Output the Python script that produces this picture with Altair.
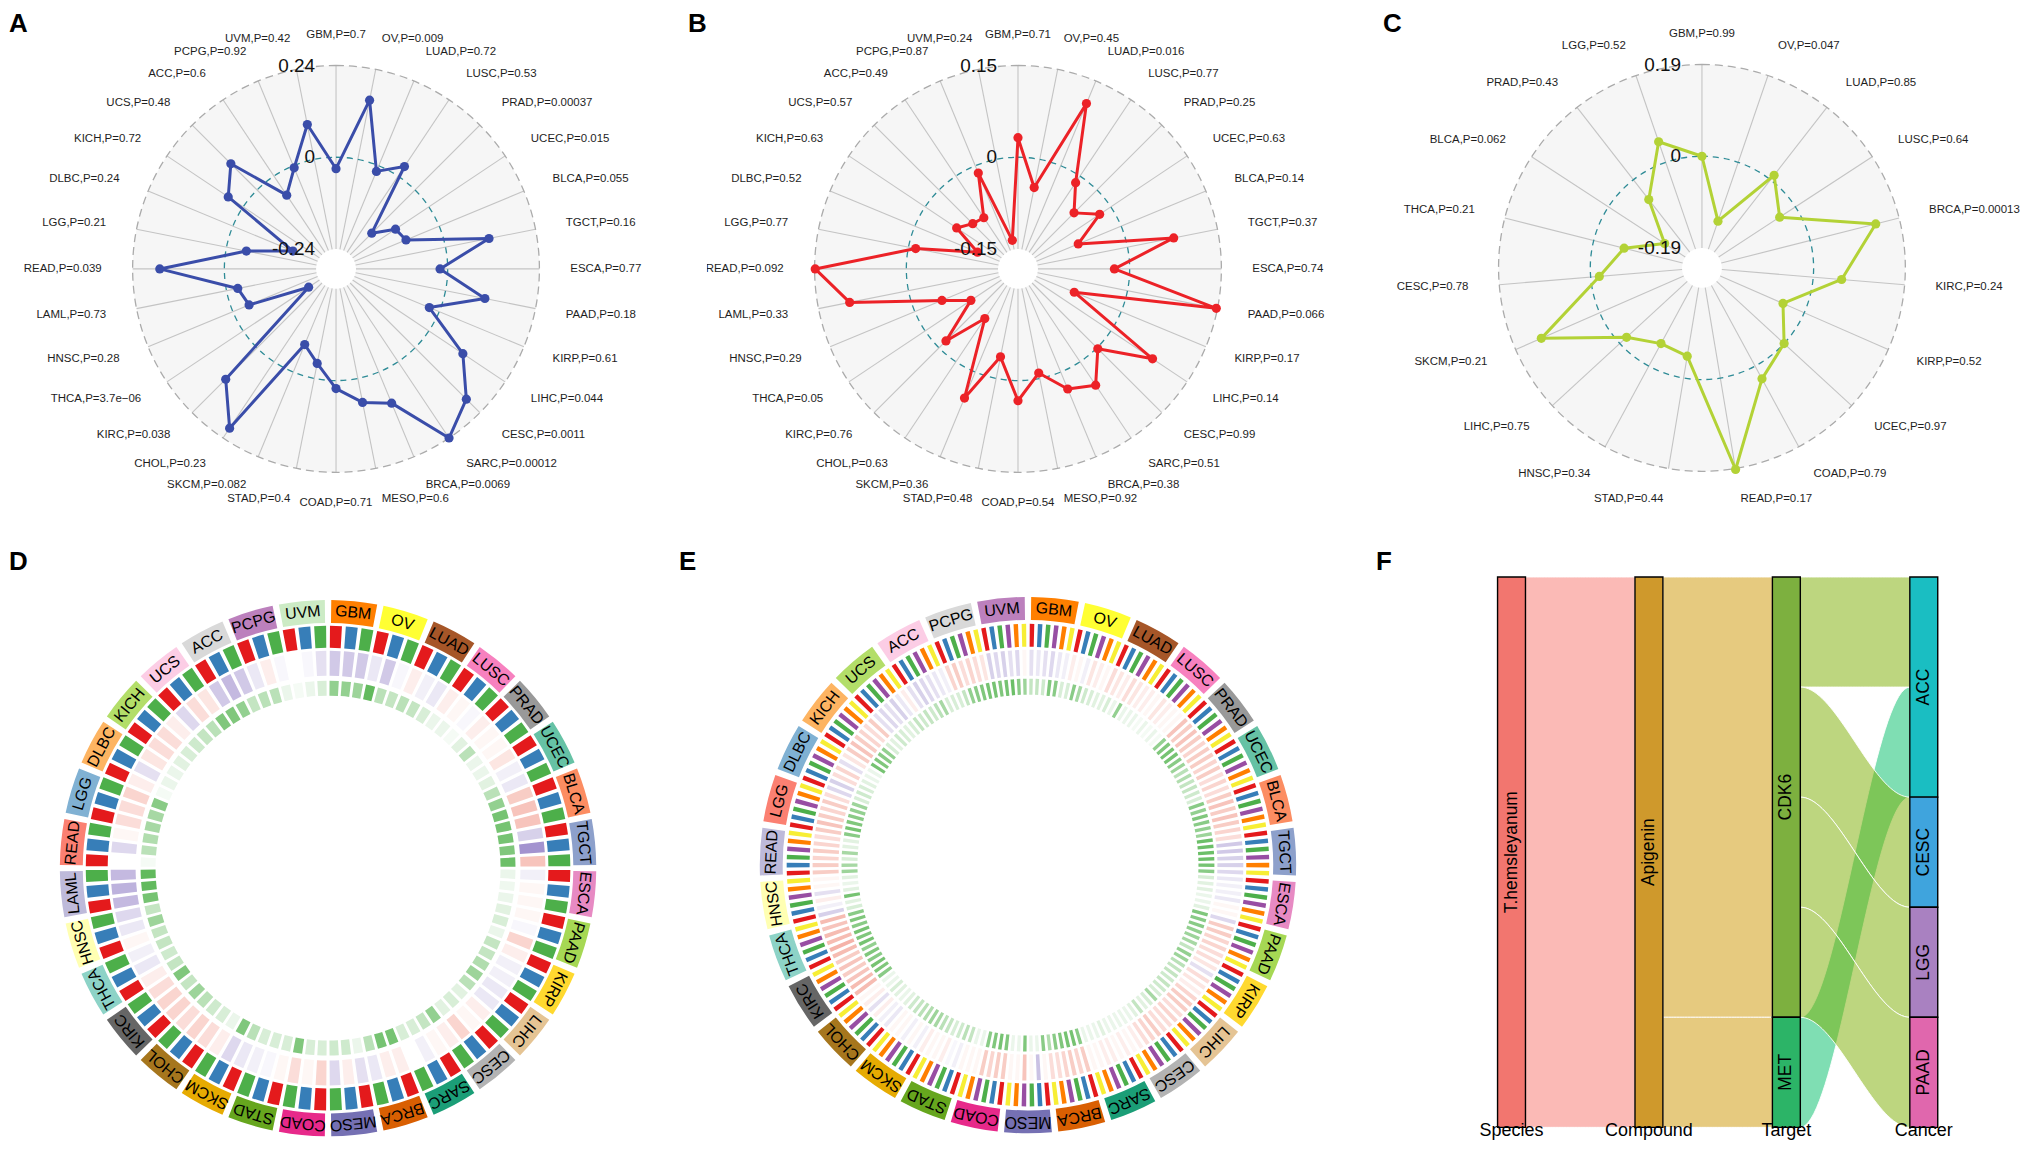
import math
import numpy as np
import pandas as pd
import altair as alt

FONT = "Liberation Sans"

# ------------------------------------------------------------------ data: radar A / B / C
cancers_ab = ["GBM", "OV", "LUAD", "LUSC", "PRAD", "UCEC", "BLCA", "TGCT", "ESCA", "PAAD",
              "KIRP", "LIHC", "CESC", "SARC", "BRCA", "MESO", "COAD", "STAD", "SKCM", "CHOL",
              "KIRC", "THCA", "HNSC", "LAML", "READ", "LGG", "DLBC", "KICH", "UCS", "ACC",
              "PCPG", "UVM"]
p_a = ["0.7", "0.009", "0.72", "0.53", "0.00037", "0.015", "0.055", "0.16", "0.77", "0.18",
       "0.61", "0.044", "0.0011", "0.00012", "0.0069", "0.6", "0.71", "0.4", "0.082", "0.23",
       "0.038", "3.7e\u221206", "0.28", "0.73", "0.039", "0.21", "0.24", "0.72", "0.48", "0.6",
       "0.92", "0.42"]
cor_a = [-0.030, 0.158, -0.016, 0.030, -0.160, -0.105, -0.094, 0.116, -0.020, 0.105,
         -0.028, 0.107, 0.190, 0.240, 0.088, 0.064, 0.021, -0.040, -0.078, 0.209,
         0.116, -0.206, -0.046, -0.030, 0.169, -0.053, -0.170, 0.047, 0.097, -0.060,
         -0.006, 0.093]
p_b = ["0.71", "0.45", "0.016", "0.77", "0.25", "0.63", "0.14", "0.37", "0.74", "0.066",
       "0.17", "0.14", "0.99", "0.51", "0.38", "0.92", "0.54", "0.48", "0.36", "0.63",
       "0.76", "0.05", "0.29", "0.33", "0.092", "0.77", "0.52", "0.63", "0.57", "0.49",
       "0.87", "0.24"]
cor_b = [0.032, -0.047, 0.110, -0.013, -0.053, -0.022, -0.076, 0.077, -0.025, 0.148,
         -0.083, 0.082, 0.002, 0.046, 0.030, -0.009, 0.033, -0.036, 0.046, -0.085,
         -0.016, -0.090, -0.048, 0.098, 0.149, -0.012, -0.111, -0.062, -0.078, -0.082,
         -0.013, -0.135]
cancers_c = ["GBM", "OV", "LUAD", "LUSC", "BRCA", "KIRC", "KIRP", "UCEC", "COAD", "READ",
             "STAD", "HNSC", "LIHC", "SKCM", "CESC", "THCA", "BLCA", "PRAD", "LGG"]
p_c = ["0.99", "0.047", "0.85", "0.64", "0.00013", "0.24", "0.52", "0.97", "0.79", "0.17",
       "0.44", "0.34", "0.75", "0.21", "0.78", "0.21", "0.062", "0.43", "0.52"]
cor_c = [0.000, -0.129, 0.012, -0.039, 0.140, 0.059, -0.048, 0.000, 0.030, 0.192,
         -0.046, -0.053, -0.019, 0.132, -0.018, -0.065, -0.139, -0.052, 0.045]

ticks_a = [-0.24, 0.0, 0.24]
tick_lab_a = ["-0.24", "0", "0.24"]
ticks_b = [-0.15, 0.0, 0.15]
tick_lab_b = ["-0.15", "0", "0.15"]
ticks_c = [-0.19, 0.0, 0.19]
tick_lab_c = ["-0.19", "0", "0.19"]

# ------------------------------------------------------------------ data: circos D / E
cancers_d = cancers_ab
div_d = [[-0.35, -0.35, -0.35], [-0.15, -0.35, -0.05], [0.1, -0.1, -0.15], [0.1, 0.05, -0.05],
         [0.1, 0.05, 0.05], [0.15, -0.1, -0.15], [0.3, 0.35, 0.35], [-0.3, -0.7, 0.35],
         [-0.1, 0.05, 0.05], [0.05, -0.05, 0.25], [0.1, -0.1, -0.1], [-0.15, -0.15, 0.1],
         [0.05, 0.25, 0.1], [0.05, -0.1, 0.0], [0.1, 0.1, -0.15], [-0.2, 0.1, -0.25],
         [0.25, 0.05, 0.2], [0.05, -0.05, -0.1], [-0.15, -0.25, 0.1], [0.2, 0.25, 0.2],
         [0.25, 0.25, 0.2], [0.1, -0.15, -0.1], [0.05, -0.15, -0.25], [-0.45, -0.5, -0.45],
         [0.0, -0.25, 0.05], [0.2, 0.2, 0.25], [0.1, -0.2, 0.15], [0.2, 0.2, 0.1],
         [-0.25, 0.2, 0.15], [-0.35, -0.45, -0.35], [-0.15, 0.1, -0.05], [0.0, -0.05, -0.2]]
sig_d = [[0.55, 0.55, 0.5], [0.8, 0.35, 0.3], [0.35, 0.3, 0.2], [0.1, 0.1, 0.05],
         [0.15, 0.35, 0.1], [0.1, 0.15, 0.35], [0.55, 0.7, 0.7], [0.7, 0.65, 0.75],
         [0.1, 0.08, 0.1], [0.15, 0.2, 0.1], [0.3, 0.3, 0.4], [0.5, 0.35, 0.15],
         [0.2, 0.15, 0.55], [0.3, 0.2, 0.2], [0.7, 0.7, 0.35], [0.1, 0.25, 0.25],
         [0.2, 0.2, 0.65], [0.2, 0.2, 0.2], [0.35, 0.65, 0.1], [0.2, 0.25, 0.35],
         [0.5, 0.3, 0.65], [0.3, 0.25, 0.3], [0.3, 0.5, 0.3], [0.7, 0.8, 0.8],
         [0.05, 0.35, 0.4], [0.45, 0.45, 0.6], [0.05, 0.1, 0.1], [0.15, 0.2, 0.25],
         [0.3, 0.35, 0.65], [0.65, 0.55, 0.3], [0.35, 0.35, 0.1], [0.05, 0.1, 0.2]]

cancers_e = ["GBM", "OV", "LUAD", "LUSC", "PRAD", "UCEC", "BLCA", "TGCT", "ESCA", "PAAD",
             "KIRP", "LIHC", "CESC", "SARC", "BRCA", "MESO", "COAD", "STAD", "SKCM", "CHOL",
             "KIRC", "THCA", "HNSC", "READ", "LGG", "DLBC", "KICH", "UCS", "ACC", "PCPG", "UVM"]
div_e = [[-0.2, -0.15, -0.2, -0.25, -0.15, -0.1], [0.1, 0.05, -0.1, 0.15, 0.1, 0.05],
         [0.2, 0.15, 0.1, 0.2, 0.15, 0.1], [0.1, 0.05, 0.15, 0.1, 0.05, 0.05],
         [0.35, 0.3, 0.35, 0.3, 0.25, 0.3], [0.3, 0.25, 0.3, 0.2, 0.25, 0.2],
         [0.3, 0.35, 0.3, 0.35, 0.3, 0.25], [0.2, -0.35, -0.35, -0.3, -0.3, -0.25],
         [-0.15, -0.1, -0.1, -0.15, 0.05, 0.05], [-0.25, 0.3, 0.3, 0.25, 0.25, 0.2],
         [0.2, 0.15, -0.2, 0.2, 0.15, 0.1], [0.25, 0.3, 0.3, 0.2, 0.25, 0.2],
         [0.2, 0.3, 0.25, 0.2, 0.1, 0.05], [0.1, 0.05, 0.1, 0.1, 0.05, 0.05],
         [0.3, 0.25, 0.3, 0.25, 0.2, 0.2], [0.05, -0.4, 0.05, 0.35, 0.05, 0.05],
         [0.3, 0.3, 0.25, 0.3, 0.05, 0.05], [0.05, -0.1, -0.05, 0.1, 0.05, 0.05],
         [0.1, -0.1, 0.05, -0.1, 0.05, 0.05], [-0.15, -0.1, 0.1, -0.2, 0.1, 0.05],
         [0.4, 0.4, 0.35, 0.3, 0.35, 0.3], [0.4, 0.45, 0.4, 0.4, 0.35, 0.4],
         [-0.3, -0.1, 0.1, -0.2, 0.05, 0.05], [0.3, 0.3, 0.25, 0.3, 0.25, 0.2],
         [0.3, 0.35, 0.3, 0.25, 0.3, 0.2], [-0.25, -0.3, 0.2, 0.25, -0.2, 0.15],
         [0.3, 0.35, 0.3, 0.25, 0.2, 0.3], [-0.2, -0.25, -0.2, -0.3, -0.15, 0.1],
         [-0.2, -0.3, -0.25, -0.2, -0.15, -0.1], [0.25, 0.3, 0.2, 0.25, 0.2, 0.15],
         [-0.3, -0.25, -0.3, -0.2, -0.25, 0.05]]
sig_e = [[0.3, 0.3, 0.25, 0.65, 0.6, 0.2], [0.2, 0.6, 0.45, 0.25, 0.2, 0.15],
         [0.15, 0.2, 0.1, 0.55, 0.1, 0.1], [0.1, 0.05, 0.1, 0.05, 0.1, 0.05],
         [0.55, 0.65, 0.7, 0.7, 0.6, 0.5], [0.35, 0.4, 0.3, 0.3, 0.25, 0.2],
         [0.6, 0.55, 0.65, 0.6, 0.55, 0.5], [0.75, 0.75, 0.75, 0.75, 0.7, 0.6],
         [0.2, 0.15, 0.15, 0.1, 0.1, 0.15], [0.65, 0.6, 0.6, 0.55, 0.5, 0.45],
         [0.3, 0.55, 0.5, 0.35, 0.3, 0.3], [0.25, 0.3, 0.25, 0.2, 0.45, 0.2],
         [0.15, 0.3, 0.15, 0.1, 0.1, 0.1], [0.1, 0.1, 0.15, 0.1, 0.1, 0.1],
         [0.6, 0.7, 0.7, 0.65, 0.6, 0.4], [0.6, 0.1, 0.1, 0.65, 0.1, 0.1],
         [0.65, 0.7, 0.65, 0.6, 0.1, 0.1], [0.3, 0.35, 0.25, 0.2, 0.3, 0.35],
         [0.45, 0.5, 0.4, 0.35, 0.3, 0.25], [0.15, 0.1, 0.15, 0.2, 0.1, 0.1],
         [0.6, 0.65, 0.7, 0.6, 0.65, 0.55], [0.7, 0.65, 0.7, 0.6, 0.65, 0.6],
         [0.2, 0.15, 0.7, 0.15, 0.1, 0.15], [0.5, 0.45, 0.2, 0.45, 0.15, 0.15],
         [0.6, 0.7, 0.65, 0.6, 0.55, 0.5], [0.2, 0.25, 0.2, 0.15, 0.1, 0.1],
         [0.7, 0.65, 0.6, 0.55, 0.2, 0.15], [0.25, 0.2, 0.15, 0.2, 0.3, 0.25],
         [0.3, 0.25, 0.35, 0.45, 0.2, 0.2], [0.2, 0.3, 0.55, 0.6, 0.65, 0.7],
         [0.7, 0.65, 0.7, 0.75, 0.6, 0.5]]

# ------------------------------------------------------------------ data: alluvial F
stage_names = ["Species", "Compound", "Target", "Cancer"]
stage_nodes = [["T.hemsleyanum"], ["Apigenin"], ["CDK6", "MET"], ["ACC", "CESC", "LGG", "PAAD"]]
flow_src = ["T.hemsleyanum", "Apigenin", "Apigenin", "CDK6", "CDK6", "CDK6", "CDK6", "MET"]
flow_tgt = ["Apigenin", "CDK6", "MET", "ACC", "CESC", "LGG", "PAAD", "ACC"]
flow_val = [5, 4, 1, 1, 1, 1, 1, 1]

# ------------------------------------------------------------------ styles
box_pal_common = {"GBM": "#FF7F00", "OV": "#FFFF33", "LUAD": "#A65628", "LUSC": "#F781BF",
                  "PRAD": "#999999", "UCEC": "#66C2A5", "BLCA": "#FC8D62", "TGCT": "#8DA0CB",
                  "ESCA": "#E78AC3", "PAAD": "#A6D854", "KIRP": "#FFD92F", "LIHC": "#E5C494",
                  "CESC": "#B3B3B3", "SARC": "#1B9E77", "BRCA": "#D95F02", "MESO": "#7570B3",
                  "COAD": "#E7298A", "STAD": "#66A61E", "SKCM": "#E6AB02", "CHOL": "#A6761D",
                  "KIRC": "#666666", "THCA": "#8DD3C7", "HNSC": "#FFFFB3"}
set3_tail = ["#BEBADA", "#FB8072", "#80B1D3", "#FDB462", "#B3DE69", "#FCCDE5", "#D9D9D9",
             "#BC80BD", "#CCEBC5"]
box_pal_d = dict(box_pal_common, **dict(zip(cancers_d[23:], set3_tail)))
box_pal_e = dict(box_pal_common, **dict(zip(cancers_e[23:], set3_tail)))
gene_cols_d = ["#E41A1C", "#377EB8", "#4DAF4A"]
gene_cols_e = ["#E41A1C", "#377EB8", "#4DAF4A", "#984EA3", "#FF7F00", "#F7EE35"]
DIV_RANGE = ["#7B64BA", "#FFFFFF", "#E9573F"]
SIG_RANGE = ["#FFFFFF", "#3BA935"]
node_col = {"T.hemsleyanum": "#F2766F", "Apigenin": "#CF992C", "CDK6": "#7DB03F",
            "MET": "#2CB467", "ACC": "#1ABEC2", "CESC": "#3FA4DD", "LGG": "#A981C1",
            "PAAD": "#E067AD"}
flow_col = {"T.hemsleyanum": "#F8766D", "Apigenin": "#CD9600", "CDK6": "#7CAE00",
            "MET": "#00BE67"}

# ------------------------------------------------------------------ helpers
ORIGIN = pd.DataFrame({"o": [0]})
R_IN, R_OUT, R_LAB = 20, 204, 235


def pos_scales(W, H, cx, cy):
    sx = alt.Scale(domain=[-cx, W - cx], nice=False, zero=False)
    sy = alt.Scale(domain=[-(H - cy), cy], nice=False, zero=False)
    return sx, sy


def xy(sx, sy):
    return dict(x=alt.X("x:Q", scale=sx, axis=None), y=alt.Y("y:Q", scale=sy, axis=None))


def letter(t, px, py):
    return alt.Chart(ORIGIN).mark_text(
        text=t, align="left", baseline="top", fontSize=26, fontWeight="bold",
        font=FONT, color="black").encode(x=alt.value(px), y=alt.value(py))


def radar(cancers, pvals, cors, ticks, tick_labels, color, W, H, cx, cy, letters, clip=False):
    sx, sy = pos_scales(W, H, cx, cy)
    enc = xy(sx, sy)
    n = len(cancers)
    lo, hi = ticks[0], ticks[-1]
    k = (R_OUT - R_IN) / (hi - lo)
    df = pd.DataFrame({"cancer": cancers, "p": pvals, "v": cors})
    df["i"] = np.arange(n)
    th = f"datum.i*2*PI/{n}"

    def rad(f):
        return f"{R_IN}+(datum.{f}-({lo}))*{k}"

    def circle(**kw):
        return alt.Chart(ORIGIN).transform_calculate(x="0", y="0").mark_arc(
            theta=0, theta2=2 * math.pi, **kw).encode(**enc)

    bg = circle(radius=R_OUT, radius2=R_IN, color="#F6F6F6")
    spokes = (alt.Chart(df).transform_calculate(th=th)
              .transform_calculate(x=f"{R_IN}*sin(datum.th)", y=f"{R_IN}*cos(datum.th)",
                                   x2=f"{R_OUT}*sin(datum.th)", y2=f"{R_OUT}*cos(datum.th)")
              .mark_rule(color="#C4C4C4", strokeWidth=1.1)
              .encode(**enc, x2="x2:Q", y2="y2:Q"))
    outer = circle(radius=R_OUT, fillOpacity=0, stroke="#ABABAB", strokeWidth=1.3,
                   strokeDash=[8, 5])
    zero = (alt.Chart(pd.DataFrame({"gv": [0.0]}))
            .transform_calculate(x="0", y="0", r=rad("gv"))
            .mark_arc(theta=0, theta2=2 * math.pi, fillOpacity=0, stroke="#2E8B96",
                      strokeWidth=1.3, strokeDash=[6, 5])
            .encode(**enc, radius=alt.Radius("r:Q", scale=None)))
    dfl = pd.concat([df, df.iloc[[0]]], ignore_index=True)
    dfl["ord"] = np.arange(n + 1)
    line = (alt.Chart(dfl).transform_calculate(th=th, r=rad("v"))
            .transform_calculate(x="datum.r*sin(datum.th)", y="datum.r*cos(datum.th)")
            .mark_line(color=color, strokeWidth=3, strokeJoin="round")
            .encode(**enc, order="ord:Q"))
    pts = (alt.Chart(df).transform_calculate(th=th, r=rad("v"))
           .transform_calculate(x="datum.r*sin(datum.th)", y="datum.r*cos(datum.th)")
           .mark_circle(color=color, size=85, opacity=1).encode(**enc))
    lab_base = (alt.Chart(df)
                .transform_calculate(th=th, deg=f"datum.i*360/{n}",
                                     lab="datum.cancer + ',P=' + datum.p")
                .transform_calculate(x=f"{R_LAB}*sin(datum.th)", y=f"{R_LAB}*cos(datum.th)"))
    tstyle = dict(fontSize=11.5, font=FONT, color="#1E1E1E", baseline="middle", clip=clip)
    lab_r = lab_base.transform_filter("datum.deg > 0.5 && datum.deg < 179.5").mark_text(
        align="left", **tstyle).encode(**enc, text="lab:N")
    lab_l = lab_base.transform_filter("datum.deg > 180.5").mark_text(
        align="right", **tstyle).encode(**enc, text="lab:N")
    lab_c = lab_base.transform_filter(
        "datum.deg <= 0.5 || (datum.deg >= 179.5 && datum.deg <= 180.5)").mark_text(
        align="center", **tstyle).encode(**enc, text="lab:N")
    grid = (alt.Chart(pd.DataFrame({"gv": ticks, "txt": tick_labels}))
            .transform_calculate(x="0", y=rad("gv"))
            .mark_text(align="right", baseline="middle", dx=-21, fontSize=19, font=FONT,
                       color="#111111")
            .encode(**enc, text="txt:N"))
    layers = [bg, spokes, outer, zero, line, pts, lab_r, lab_l, lab_c, grid]
    layers += [letter(*l) for l in letters]
    return alt.layer(*layers).properties(width=W, height=H)


def circos(cancers, palette, gene_cols, div, sig, W, H, cx, cy, radii, pads, letters):
    sx, sy = pos_scales(W, H, cx, cy)
    enc = xy(sx, sy)
    n = len(cancers)
    m = len(gene_cols)
    step = 2 * math.pi / n
    slot = step / m
    r_lab, r_gene, r_div, r_sig = radii
    lab = pd.DataFrame({"cancer": cancers, "i": np.arange(n)})
    lab["box"] = [palette[c] for c in cancers]
    cells = pd.DataFrame([{"i": i, "k": k, "div": div[i][k], "sig": sig[i][k]}
                          for i in range(n) for k in range(m)])
    cells["gene"] = [gene_cols[k] for k in cells["k"]]
    th_enc = dict(theta=alt.Theta("t0:Q", scale=None), theta2=alt.Theta2("t1:Q"))

    lab_ring = (alt.Chart(lab)
                .transform_calculate(x="0", y="0", t0=f"datum.i*{step}+{pads[0]}",
                                     t1=f"(datum.i+1)*{step}-{pads[0]}")
                .mark_arc(radius=r_lab[1], radius2=r_lab[0])
                .encode(**enc, **th_enc, fill=alt.Fill("box:N", scale=None)))
    rm = (r_lab[0] + r_lab[1]) / 2
    lab_txt = (alt.Chart(lab)
               .transform_calculate(tc=f"(datum.i+0.5)*{step}")
               .transform_calculate(x=f"{rm}*sin(datum.tc)", y=f"{rm}*cos(datum.tc)",
                                    rot="datum.tc*180/PI")
               .mark_text(fontSize=16, font=FONT, color="black", baseline="middle",
                          align="center")
               .encode(**enc, text="cancer:N", angle=alt.Angle("rot:Q", scale=None)))
    cb = (alt.Chart(cells)
          .transform_calculate(x="0", y="0", j=f"datum.i*{m}+datum.k")
          .transform_calculate(t0=f"datum.j*{slot}+{pads[1]}",
                               t1=f"(datum.j+1)*{slot}-{pads[1]}"))
    ring_gene = cb.mark_arc(radius=r_gene[1], radius2=r_gene[0]).encode(
        **enc, **th_enc, fill=alt.Fill("gene:N", scale=None))
    ring_div = cb.mark_arc(radius=r_div[1], radius2=r_div[0]).encode(
        **enc, **th_enc,
        fill=alt.Fill("div:Q", scale=alt.Scale(domain=[-1, 0, 1], range=DIV_RANGE,
                                               interpolate="rgb"), legend=None))
    ring_sig = cb.mark_arc(radius=r_sig[1], radius2=r_sig[0]).encode(
        **enc, **th_enc,
        fill=alt.Fill("sig:Q", scale=alt.Scale(domain=[0, 1], range=SIG_RANGE,
                                               interpolate="rgb"), legend=None))
    layers = [lab_ring, lab_txt, ring_gene, ring_div, ring_sig]
    layers += [letter(*l) for l in letters]
    return alt.layer(*layers).resolve_scale(fill="independent").properties(width=W, height=H)


def alluvial(W, H, letters):
    # pixel frame of the stages / strata inside the panel
    x_first, x_gap, node_w = 166.0, 137.83, 28.0
    y_top, unit = 29.0, 110.4
    sx = alt.Scale(domain=[-x_first / x_gap, (W - x_first) / x_gap], nice=False, zero=False)
    sy = alt.Scale(domain=[(H - y_top) / unit, -y_top / unit], nice=False, zero=False)
    hw = node_w / 2 / x_gap
    flows = list(zip(flow_src, flow_tgt, flow_val))
    stage_of = {nd: s for s, nds in enumerate(stage_nodes) for nd in nds}
    order_of = {nd: j for nds in stage_nodes for j, nd in enumerate(nds)}
    size = {nd: max(sum(v for s, t, v in flows if s == nd), sum(v for s, t, v in flows if t == nd))
            for nd in stage_of}
    top = {}
    for nds in stage_nodes:
        acc = 0.0
        for nd in nds:
            top[nd] = acc
            acc += size[nd]
    src_rng, tgt_rng = {}, {}
    for nd in stage_of:
        outs = sorted([f for f in range(len(flows)) if flows[f][0] == nd],
                      key=lambda f: order_of[flows[f][1]])
        acc = top[nd]
        for f in outs:
            src_rng[f] = (acc, acc + flows[f][2])
            acc += flows[f][2]
        ins = sorted([f for f in range(len(flows)) if flows[f][1] == nd],
                     key=lambda f: order_of[flows[f][0]])
        acc = top[nd]
        for f in ins:
            tgt_rng[f] = (acc, acc + flows[f][2])
            acc += flows[f][2]
    rows = []
    ts = np.linspace(0, 1, 41)
    for f, (s, t, v) in enumerate(flows):
        s0 = stage_of[s]
        (a0, a1), (b0, b1) = src_rng[f], tgt_rng[f]
        for tt in ts:
            sm = tt * tt * (3 - 2 * tt)
            rows.append({"fid": f, "src": s, "fc": flow_col[s],
                         "x": s0 + hw + (1 - 2 * hw) * tt,
                         "ya": a0 + (b0 - a0) * sm, "yb": a1 + (b1 - a1) * sm})
    fdf = pd.DataFrame(rows)
    ndf = pd.DataFrame([{"name": nd, "stage": stage_of[nd], "top": top[nd],
                         "bot": top[nd] + size[nd], "nc": node_col[nd]} for nd in stage_of])
    ndf["x0"] = ndf["stage"] - hw
    ndf["x1"] = ndf["stage"] + hw
    ndf["mid"] = (ndf["top"] + ndf["bot"]) / 2
    sdf = pd.DataFrame({"stage": np.arange(len(stage_names)), "label": stage_names})

    def flow_layer(flt):
        return (alt.Chart(fdf).transform_filter(flt)
                .mark_area(fillOpacity=0.5, stroke="white", strokeWidth=1, strokeOpacity=0.9)
                .encode(x=alt.X("x:Q", scale=sx, axis=None),
                        y=alt.Y("ya:Q", scale=sy, axis=None), y2="yb:Q",
                        detail="fid:N", fill=alt.Fill("fc:N", scale=None)))

    fl_main = flow_layer("datum.src != 'CDK6'")
    fl_top = flow_layer("datum.src == 'CDK6'")
    nodes = (alt.Chart(ndf).mark_rect(stroke="black", strokeWidth=1.4)
             .encode(x=alt.X("x0:Q", scale=sx, axis=None), x2="x1:Q",
                     y=alt.Y("top:Q", scale=sy, axis=None), y2="bot:Q",
                     fill=alt.Fill("nc:N", scale=None)))
    ntxt = (alt.Chart(ndf).mark_text(angle=270, fontSize=17.5, font=FONT, color="black",
                                     baseline="middle", align="center")
            .encode(x=alt.X("stage:Q", scale=sx, axis=None),
                    y=alt.Y("mid:Q", scale=sy, axis=None), text="name:N"))
    stxt = (alt.Chart(sdf).mark_text(fontSize=18, font=FONT, color="black",
                                     baseline="middle", align="center")
            .encode(x=alt.X("stage:Q", scale=sx, axis=None), y=alt.value(H - 9),
                    text="label:N"))
    layers = [fl_main, fl_top, nodes, ntxt, stxt] + [letter(*l) for l in letters]
    return alt.layer(*layers).properties(width=W, height=H)


# ------------------------------------------------------------------ panels
H1, H2 = 540, 594
pA = radar(cancers_ab, p_a, cor_a, ticks_a, tick_lab_a, "#3A4DA9", 701, H1, 329, 260,
           [("A", 1, 1), ("B", 682, 1)])
pB = radar(cancers_ab, p_b, cor_b, ticks_b, tick_lab_b, "#EC2227", 641, H1, 312, 260,
           [], clip=True)
pC = radar(cancers_c, p_c, cor_c, ticks_c, tick_lab_c, "#B3D236", 677, H1, 357, 259,
           [("C", 37, 1)])

pD = circos(cancers_d, box_pal_d, gene_cols_d, div_d, sig_d, 671, H2, 321, 321,
            [(246, 269), (221, 243), (193, 218), (173, 188)], (0.012, 0.008), [("D", 1, 1)])
pE = circos(cancers_e, box_pal_e, gene_cols_e, div_e, sig_e, 671, H2, 352, 318,
            [(246, 269), (219, 242), (190, 216), (171, 187)], (0.012, 0.0075), [("E", 2, 1)])
pF = alluvial(677, H2, [("F", 30, 1)])

res = dict(x="independent", y="independent", fill="independent", color="independent")
row1 = alt.hconcat(pA, pB, pC, spacing=0, bounds="flush").resolve_scale(**res)
row2 = alt.hconcat(pD, pE, pF, spacing=0, bounds="flush").resolve_scale(**res)
chart = (alt.vconcat(row1, row2, spacing=0, padding=0)
         .resolve_scale(**res)
         .configure_view(strokeWidth=0))

chart.save("out.html", embed_options={"renderer": "svg", "actions": False})
